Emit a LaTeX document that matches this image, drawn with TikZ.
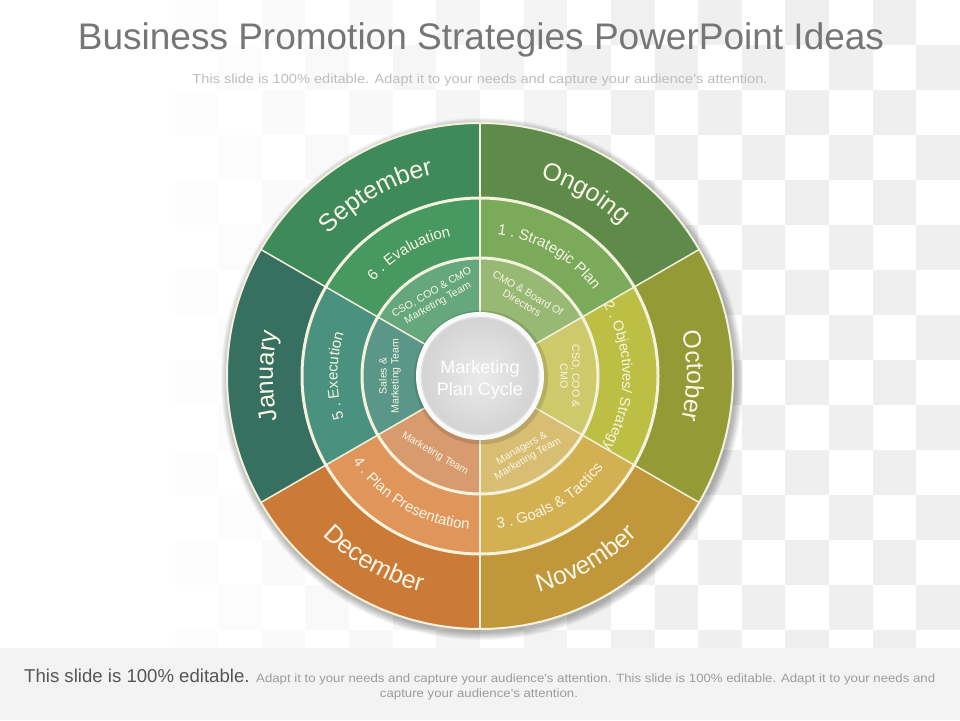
\documentclass[tikz,border=0pt]{standalone}
\usepackage{fontspec}
\setmainfont{Liberation Sans}
\newfontfamily\narrowfont[FakeStretch=0.85]{Liberation Sans}
\usetikzlibrary{decorations.text}
\definecolor{checker}{HTML}{EFEFEF}
\definecolor{footbg}{HTML}{F3F3F3}
\definecolor{titlec}{HTML}{767676}
\definecolor{subc}{HTML}{BDBDBD}
\definecolor{footdark}{HTML}{555555}
\definecolor{footlight}{HTML}{9C9C9C}
\definecolor{lab}{HTML}{FAF6E6}
\definecolor{sepc}{HTML}{F4F1DC}
\definecolor{september}{HTML}{3E8A5A}
\definecolor{ongoing}{HTML}{5E8A4A}
\definecolor{october}{HTML}{939A36}
\definecolor{november}{HTML}{C0973A}
\definecolor{december}{HTML}{CB7A38}
\definecolor{january}{HTML}{376F61}
\definecolor{evaluation}{HTML}{479861}
\definecolor{strategic}{HTML}{7AAA5A}
\definecolor{objectives}{HTML}{BDBF45}
\definecolor{goals}{HTML}{D3B052}
\definecolor{planpres}{HTML}{E0955A}
\definecolor{execution}{HTML}{4A917F}
\definecolor{csoteam}{HTML}{66A87D}
\definecolor{cmoboard}{HTML}{97B974}
\definecolor{csocmo}{HTML}{CEC96B}
\definecolor{managers}{HTML}{D8BE73}
\definecolor{mktteam}{HTML}{D89B6E}
\definecolor{sales}{HTML}{5B9788}
\newcommand\outerf{\fontsize{25}{30}\selectfont}
\newcommand\midf{\fontsize{15}{17}\selectfont}
\newcommand\cwtext[4]{%
  \path[decorate,decoration={text along path,text align=center,text color=lab,text={|#3|#4}}]
    (#1+50:#2) arc[start angle=#1+50,end angle=#1-50,radius=#2];}
\newcommand\ccwtext[4]{%
  \path[decorate,decoration={text along path,text align=center,text color=lab,text={|#3|#4}}]
    (#1-50:#2) arc[start angle=#1-50,end angle=#1+50,radius=#2];}
\begin{document}
\begin{tikzpicture}[x=1pt,y=1pt,
  inlab/.style={align=center,font=\fontsize{10.5}{12}\selectfont,text=lab,inner sep=0pt},
  sepline/.style={draw=sepc,line width=1.5pt}]
\useasboundingbox (0,0) rectangle (960,720);
\fill[white] (0,0) rectangle (960,720);
% faded checkerboard
\foreach \c in {0,...,21}{
  \foreach \r in {0,...,15}{
    \pgfmathsetmacro{\op}{max(0,min(1,(\c-3)/12))}
    \pgfmathtruncatemacro{\pp}{mod(\c+\r,2)}
    \ifnum\pp=0
      \fill[checker,opacity=\op] (\c*43.636,720-\r*45) rectangle ++(43.636,-45);
    \fi
  }}
% footer band
\fill[footbg] (0,0) rectangle (960,72);
% title
\node[anchor=base,text=titlec,font=\fontsize{37}{42}\selectfont,inner sep=0] (title) at (481,670)
  {Business Promotion Strategies PowerPoint Ideas};
\node[anchor=base,text=subc,inner sep=0] (subtitle) at (480,636)
  {\resizebox{575pt}{\height}{\narrowfont\fontsize{13}{15}\selectfont This slide is 100\% editable. Adapt it to your needs and capture your audience's attention.}};
% footer text
\node[anchor=base west,text=footdark,font=\fontsize{18.6}{20}\selectfont,inner sep=0] (foot1) at (24,38)
  {This slide is 100\% editable.};
\node[anchor=base west,text=footlight,inner sep=0] (foot2) at (256,38)
  {\resizebox{679pt}{\height}{\narrowfont\fontsize{12}{14}\selectfont Adapt it to your needs and capture your audience's attention. This slide is 100\% editable. Adapt it to your needs and}};
\node[anchor=base,text=footlight,inner sep=0] (foot3) at (479,23)
  {\resizebox{198pt}{\height}{\narrowfont\fontsize{12}{14}\selectfont capture your audience's attention.}};

\begin{scope}[shift={(480,344)}]
  % shadow
  \foreach \i in {1,...,9}
    \fill[black,opacity=0.035] (2,-3) circle ({253+\i*0.9});
  % outer ring
  \foreach \a/\cl in {90/september,30/ongoing,-30/october,270/november,210/december,150/january}
    \fill[\cl] (0,0) -- (\a:253) arc[start angle=\a,end angle=\a+60,radius=253] -- cycle;
  % middle ring
  \foreach \a/\cl in {90/evaluation,30/strategic,-30/objectives,270/goals,210/planpres,150/execution}
    \fill[\cl] (0,0) -- (\a:178) arc[start angle=\a,end angle=\a+60,radius=178] -- cycle;
  % inner ring
  \foreach \a/\cl in {90/csoteam,30/cmoboard,-30/csocmo,270/managers,210/mktteam,150/sales}
    \fill[\cl] (0,0) -- (\a:118) arc[start angle=\a,end angle=\a+60,radius=118] -- cycle;
  % separators
  \foreach \a in {30,90,...,330}
    \draw[sepline] (\a:62) -- (\a:253);
  \draw[sepc,line width=3pt] (0,0) circle (178);
  \draw[sepc,line width=3pt] (0,0) circle (118);
  \draw[sepc,line width=2pt] (0,0) circle (253);
  % centre
  \fill[black,opacity=0.12] (1,-1.5) circle (67);
  \fill[white!96!gray] (0,0) circle (64);
  \fill[black,opacity=0.10] (0,0) circle (59.5);
  \shade[inner color=white!84!gray,outer color=white!66!gray] (0,0) circle (58);
  \node[font=\fontsize{18}{22}\selectfont,align=center,text=white,inner sep=0] (centre) at (0,-4)
    {Marketing\\Plan Cycle};
  % outer labels
  \cwtext{120}{207}{\outerf}{September}
  \cwtext{60}{207}{\outerf}{Ongoing}
  \cwtext{0}{207}{\outerf}{October}
  \cwtext{180}{207}{\outerf}{January}
  \ccwtext{300}{224}{\outerf}{November}
  \ccwtext{240}{224}{\outerf}{December}
  % middle labels
  \cwtext{120}{142.5}{\midf}{6 . Evaluation}
  \cwtext{60}{142.5}{\midf}{1 . Strategic Plan}
  \cwtext{0}{142.5}{\fontsize{14.5}{17}\selectfont}{2 . Objectives/ Strategy}
  \cwtext{180}{142.5}{\midf}{5 . Execution}
  \ccwtext{300}{153.5}{\midf}{3 . Goals {\&} Tactics}
  \ccwtext{240}{153.5}{\midf}{4 . Plan Presentation}
  % inner labels
  \node[inlab,rotate=30] (l1) at (120:90) {CSO, COO \& CMO\\Marketing Team};
  \node[inlab,rotate=-30] (l2) at (60:90) {CMO \& Board Of\\Directors};
  \node[inlab,rotate=-90] (l3) at (0:90) {CSO, COO \&\\CMO};
  \node[inlab,rotate=30] (l4) at (300:90) {Managers \&\\Marketing Team};
  \node[inlab,rotate=-30] (l5) at (240:90) {Marketing Team};
  \node[inlab,rotate=90] (l6) at (180:90) {Sales \&\\Marketing Team};
\end{scope}
\end{tikzpicture}
\end{document}
